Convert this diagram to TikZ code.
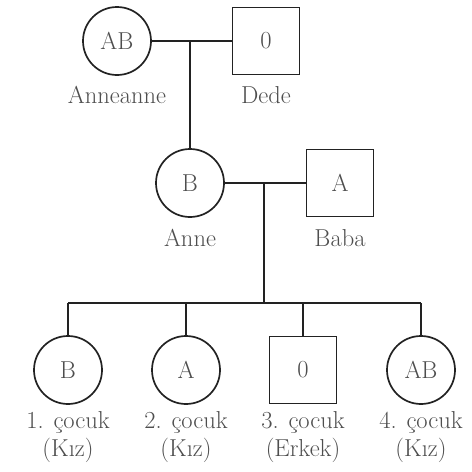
\documentclass[tikz,border=0pt]{standalone}
\definecolor{txt}{HTML}{4E4E4E}
\definecolor{ln}{HTML}{222222}
\begin{document}
\begin{tikzpicture}[x=1pt,y=-1pt,
  every node/.style={text=txt,font=\fontsize{24.5}{28}\selectfont},
  fem/.style={circle,draw=ln,line width=1.7pt,minimum size=68pt,inner sep=0pt},
  mal/.style={rectangle,draw=ln,line width=1.7pt,minimum size=67pt,inner sep=0pt},
  lbl/.style={align=center,inner sep=0pt},
  conn/.style={draw=ln,line width=1.7pt}]
\useasboundingbox (0,0) rectangle (472,472);
\node[fem] (AN) at (117,41) {AB};
\node[mal] (DE) at (266,41) {0};
\node[fem] (AE) at (190,183) {B};
\node[mal] (BA) at (340,183) {A};
\node[fem] (C1) at (68,370) {B};
\node[fem] (C2) at (186,370) {A};
\node[mal] (C3) at (303,370) {0};
\node[fem] (C4) at (421,370) {AB};
\node[lbl] (LAN) at (117,95) {Anneanne};
\node[lbl] (LDE) at (266,95) {Dede};
\node[lbl] (LAE) at (190,238) {Anne};
\node[lbl] (LBA) at (340,238) {Baba};
\node[lbl] (L1) at (68,437) {1. çocuk\\(Kız)};
\node[lbl] (L2) at (186,437) {2. çocuk\\(Kız)};
\node[lbl] (L3) at (303,437) {3. çocuk\\(Erkek)};
\node[lbl] (L4) at (421,437) {4. çocuk\\(Kız)};
\coordinate (m1) at (190,41);
\coordinate (m2) at (264,183);
\coordinate (b0) at (264,303);
\coordinate (b1) at (68,303);
\coordinate (b2) at (186,303);
\coordinate (b3) at (303,303);
\coordinate (b4) at (421,303);
\draw[conn] (AN) -- (DE);
\draw[conn] (m1) -- (AE);
\draw[conn] (AE) -- (BA);
\draw[conn] (m2) -- (b0);
\draw[conn] (b1) -- (b4);
\draw[conn] (b1) -- (C1);
\draw[conn] (b2) -- (C2);
\draw[conn] (b3) -- (C3);
\draw[conn] (b4) -- (C4);
\end{tikzpicture}
\end{document}
